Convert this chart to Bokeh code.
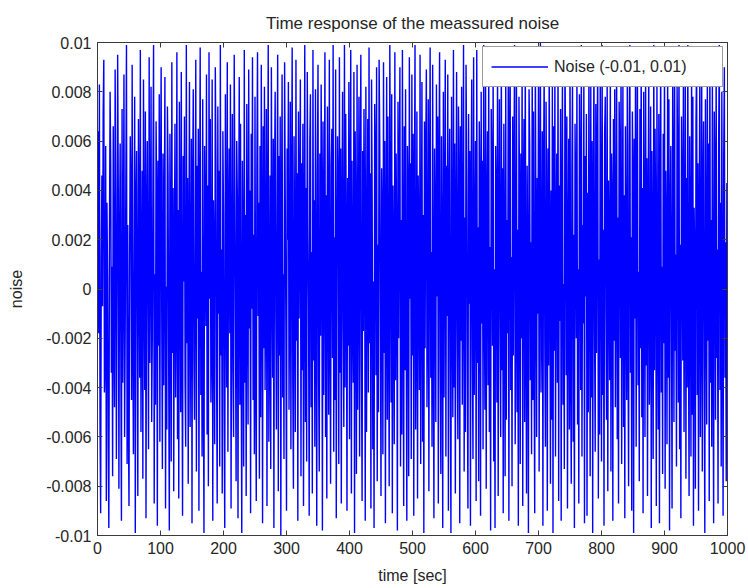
import numpy as np
from bokeh.plotting import figure
from bokeh.models import (LinearAxis, FixedTicker, CustomJSTickFormatter, Legend,
                          LegendItem, Range1d, ColumnDataSource)
from bokeh.embed import file_html
from bokeh.resources import INLINE

# noise samples, in units of 1e-4, one per second
noise_e4 = [
    27, 64, -18, 83, -55, -91, 12, 46, -7, 71, 93, -42, -29, 58, -86, 35, 4, -63, -97, 22, 80, 51, -34, 9, -76,
    66, -13, -48, 89, 31, -69, -2, 95, 40, -81, 17, 59, -25, -94, 73, -38, 8, 87, -60, -16, 44, 99, -71, 26, -52,
    -88, 14, 62, 37, -45, 91, -20, -67, 5, 78, -99, 33, 56, -11, -84, 69, 21, -36, 97, -58, -3, 48, -77, 85, 10,
    -41, 72, -93, 28, 60, -8, -65, 94, -30, 15, 82, -54, -19, 43, 99, -87, 6, -47, 68, 34, -96, 52, -23, 79, -62,
    38, 90, -14, -73, 55, -39, 24, 86, -89, 1, -57, 74, 47, -31, -98, 63, 18, -70, 92, -26, 41, -82, 11, 67, -44,
    -9, 96, -61, 32, -85, 76, 20, -50, 88, -17, -92, 54, 3, 70, -37, -64, 99, -22, 45, -79, 13, 84, -56, -6, 61,
    -95, 39, 81, -28, -53, 17, 93, -74, 50, -12, 65, -90, 29, 98, -43, 7, -68, 77, -35, -99, 58, 23, -15, 87, -59,
    42, -80, 96, -4, 69, -46, -21, 85, -94, 36, 12, -63, 90, 53, -32, -87, 74, -10, 48, -72, 99, -27, 16, -83, 64,
    31, -51, -97, 79, 8, -40, 92, -66, 25, 57, -18, 83, -89, 2, 71, -34, -60, 95, 44, -13, -78, 60, 37, -93, 19,
    86, -47, 67, -25, -99, 52, 11, -72, 97, -38, 30, -84, 75, 5, -55, 89, -16, 40, -91, 63, -8, 94, -45, 22, -67,
    78, -30, -86, 49, 96, -11, 35, -77, 58, -52, 91, 18, -95, 66, -24, 82, -41, 3, 73, -88, 27, 99, -62, -19, 46,
    -73, 90, 14, -36, 61, -97, 43, 80, -9, -57, 32, 95, -82, 54, -27, 70, -100, 25, 87, -44, 6, -69, 92, 38, -15,
    -90, 57, 20, 84, -49, -2, 76, -65, 33, 98, -39, -81, 62, 9, -58, 93, -21, 47, -94, 72, -12, 28, 85, -76, 51,
    -33, 67, -88, 13, 99, -54, 41, -70, 88, 24, -6, -92, 59, 79, -48, 15, -83, 97, -29, 36, -64, 81, 4, -96, 45,
    91, -37, -74, 55, -19, 83, 30, -98, 68, -43, 11, 96, -60, 38, -85, 74, 19, -51, 93, -8, -79, 50, 65, -28, 99,
    -66, 21, -45, 89, -93, 7, 62, 41, -71, 94, -34, 57, -87, 26, 80, -14, -56, 99, -40, 71, 16, -90, 45, -23, 84,
    -61, 34, 97, -83, 52, -5, -38, 88, -99, 64, 23, -75, 91, -49, 12, 78, -68, 39, 95, -31, -86, 56, -17, 73, 29,
    -94, 82, -58, 10, 69, -42, 98, -22, 47, -89, 85, 36, -65, 3, -97, 75, 54, -35, 90, -78, 18, -50, 93, 61, -12,
    -84, 49, 27, -67, 92, -26, 60, -95, 17, 86, -53, 70, -9, -80, 99, 32, -46, 79, -91, 42, 8, -63, 96, -37, 55,
    14, -98, 76, -20, 43, 90, -72, 28, -59, 97, 5, -88, 66, -33, 81, -15, -94, 58, 39, -76, 94, -4, 51, -69, 87,
    -27, 63, -92, 35, 99, -57, -13, 72, -85, 46, 19, -41, 95, -71, 9, 84, -62, 30, -99, 68, -24, 53, 89, -48, -7,
    77, -82, 40, 98, -36, 15, -64, 91, -19, -93, 57, 26, -54, 83, -3, 70, -87, 44, 96, -29, -75, 62, 11, -97, 80,
    -44, 23, 93, -68, 50, -11, 87, -90, 34, 65, -32, -99, 78, 6, -52, 97, -40, 59, -83, 20, 88, -16, -61, 74, 42,
    -95, 66, -21, 82, -47, 3, 99, -74, 29, -58, 91, 48, -35, -89, 71, -6, 56, -96, 37, 85, -26, -69, 94, -43, 13,
    60, -86, 97, -30, 25, -78, 68, 39, -92, 80, -14, 52, -65, 99, -1, -49, 86, -81, 31, 64, -39, 92, -58, 17, -98,
    73, 46, -23, 90, -70, 8, -97, 58, 35, -46, 95, -84, 21, 77, -12, -60, 98, -33, 49, -91, 67, 4, -76, 89, -53,
    28, -18, 84, -94, 61, 94, -41, 13, -80, 70, -27, 43, 99, -63, -8, 87, -50, 24, -96, 78, 34, -71, 55, -20, 92,
    -88, 38, 69, -54, 96, -15, -83, 50, 7, -99, 81, 59, -37, 19, -67, 93, -45, 72, -28, -91, 98, 16, -60, 45, -10,
    85, -74, 32, 100, -42, -5, 64, -96, 48, 89, -22, -64, 76, 27, -90, 57, -31, 95, 10, -79, 40, -53, 83, -99, 66,
    -25, 91, -68, 19, 55, -38, 98, -86, 42, -13, 73, -94, 31, 86, -47, 2, -73, 97, 52, -35, 70, -89, 14, 61, -57,
    96, -30, -79, 47, 84, -62, 22, -97, 67, 37, -20, 90, -55, 8, -87, 79, 44, -41, 99, -68, 26, -14, 88, -95, 54,
    -3, 71, -92, 39, -50, 93, 15, -76, 82, -44, 60, -99, 30, 94, -18, -66, 75, -26, 49, 97, -85, 12, -59, 86, 33,
    -70, 99, -43, 24, -96, 63, 78, -9, -53, 89, -82, 44, 18, -37, 92, -74, 55, 35, -94, 69, -21, 81, -48, 6, 95,
    -61, 29, -87, 76, 52, -28, 97, -71, 11, 83, -56, 38, -93, 66, 2, -45, 90, -17, -80, 58, 99, -34, 21, -90, 72,
    46, -99, 61, -12, 88, -64, 33, 95, -39, 7, -78, 73, -24, 98, -52, 41, -91, 80, 17, -60, 93, -31, 53, -84, 26,
    89, -47, -16, 74, -97, 56, 12, -69, 99, -33, 65, 27, -88, 85, -7, -57, 71, -95, 39, 94, -42, 9, -75, 63, -22,
    97, -81, 48, 20, -63, 91, -36, 77, -98, 30, 58, -10, -89, 87, 43, -54, 96, -25, 14, -72, 82, 51, -46, 99, -65,
    18, -93, 70, 37, -29, 86, -58, 4, 94, -77, 45, -40, 99, -15, -84, 62, 25, -68, 91, -51, 78, -96, 33, 12, -81,
    67, 95, -43, 51, -90, 22, 83, -60, -11, 97, -74, 40, 68, -32, -99, 77, 9, -55, 88, -21, 59, -86, 98, -38, 28,
    -64, 84, -19, -95, 72, 47, -53, 93, -28, 16, -87, 61, 99, -41, 35, -72, 80, -6, -92, 54, 90, -36, 19, -78, 43,
    -12,
]
x_ticks = [0, 100, 200, 300, 400, 500, 600, 700, 800, 900, 1000]
y_ticks = [-0.01, -0.008, -0.006, -0.004, -0.002, 0, 0.002, 0.004, 0.006, 0.008, 0.01]
title_text = "Time response of the meassured noise"
x_label = "time [sec]"
y_label = "noise"
legend_label = "Noise (-0.01, 0.01)"

noise = np.array(noise_e4) * 1e-4
t = np.linspace(0, 1000, len(noise))
src = ColumnDataSource(dict(t=t, v=noise))

FONT = "Liberation Sans"
TXT = "#262626"
AX = "#3a3a3a"

p = figure(width=748, height=588, output_backend="svg", toolbar_location=None,
           x_range=Range1d(0, 1000), y_range=Range1d(-0.01, 0.01),
           min_border_left=97, min_border_right=21, min_border_top=42, min_border_bottom=53,
           x_axis_type=None, y_axis_type=None)
p.title.text = title_text
p.title.align = "center"
p.title.text_font = FONT
p.title.text_font_size = "17px"
p.title.text_font_style = "normal"
p.title.text_color = TXT
p.title.standoff = 20
p.outline_line_color = AX
p.outline_line_width = 1
p.xgrid.visible = False
p.ygrid.visible = False
p.background_fill_color = "white"
p.border_fill_color = "white"

fmt = CustomJSTickFormatter(code="return (Math.round(tick*10000)/10000).toString();")

def style(ax, show_labels):
    ax.major_tick_in = 5
    ax.major_tick_out = 0
    ax.minor_tick_in = 0
    ax.minor_tick_out = 0
    ax.axis_line_color = AX
    ax.major_tick_line_color = AX
    ax.major_label_text_font = FONT
    ax.major_label_text_color = TXT
    ax.axis_label_text_font = FONT
    ax.axis_label_text_color = TXT
    ax.axis_label_text_font_style = "normal"
    if show_labels:
        ax.major_label_text_font_size = "16px"
        ax.axis_label_text_font_size = "16px"
    else:
        ax.major_label_text_font_size = "0px"
        ax.major_label_text_alpha = 0

xb = LinearAxis(ticker=FixedTicker(ticks=x_ticks), axis_label=x_label)
style(xb, True)
xb.major_label_standoff = 6
xb.axis_label_standoff = 10
p.add_layout(xb, "below")

yl = LinearAxis(ticker=FixedTicker(ticks=y_ticks), formatter=fmt, axis_label=y_label)
style(yl, True)
yl.major_label_standoff = 6
yl.axis_label_standoff = 18
p.add_layout(yl, "left")

xt = LinearAxis(ticker=FixedTicker(ticks=x_ticks))
style(xt, False)
p.add_layout(xt, "above")

yr = LinearAxis(ticker=FixedTicker(ticks=y_ticks))
style(yr, False)
p.add_layout(yr, "right")

r = p.line("t", "v", source=src, line_color="#0000ff", line_width=1.4)

legend = Legend(items=[LegendItem(label=legend_label, renderers=[r])],
                location="top_right")
legend.margin = 4
legend.padding = 8
legend.spacing = 0
legend.glyph_width = 57
legend.glyph_height = 23
legend.label_height = 23
legend.label_width = 160
legend.label_standoff = 6
legend.label_text_font = FONT
legend.label_text_font_size = "16px"
legend.label_text_color = TXT
legend.border_line_color = AX
legend.border_line_width = 1
legend.background_fill_color = "white"
legend.background_fill_alpha = 1
p.add_layout(legend)

open("out.html", "w").write(file_html(p, INLINE))
